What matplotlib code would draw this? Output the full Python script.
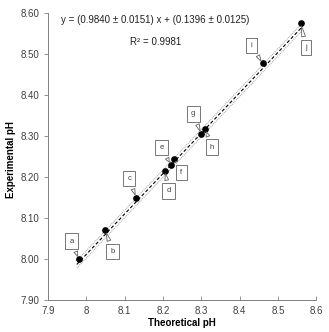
import numpy as np
import matplotlib
matplotlib.use("Agg")
import matplotlib.pyplot as plt

plt.rcParams['font.family'] = ['Liberation Sans', 'DejaVu Sans']

# data
theo_ph = [7.98, 8.05, 8.13, 8.205, 8.22, 8.23, 8.30, 8.31, 8.46, 8.56]
exp_ph = [8.00, 8.07, 8.15, 8.215, 8.23, 8.243, 8.305, 8.317, 8.477, 8.575]
point_tags = ['a', 'b', 'c', 'd', 'e', 'f', 'g', 'h', 'i', 'j']
# callout offsets (pixels) from each point
tag_dx = [-7, 7, -7, 4, -9, 7, -8, 7, -11, 5]
tag_dy = [18, -21, 19, -20, 17, -13, 20, -18, 18, -24]

slope, intercept = 0.9840, 0.1396
band = 0.009
x_ticks = [7.9, 8.0, 8.1, 8.2, 8.3, 8.4, 8.5, 8.6]
x_tick_labels = ['7.9', '8', '8.1', '8.2', '8.3', '8.4', '8.5', '8.6']
y_ticks = [7.9, 8.0, 8.1, 8.2, 8.3, 8.4, 8.5, 8.6]

fig = plt.figure(figsize=(3.29, 3.32), dpi=100)
ax = fig.add_axes([0.146, 0.096, 0.815, 0.865])

# fitted line with band
xf = np.array([7.975, 8.565])
yf = slope * xf + intercept
ax.plot(xf, yf + band, color='#a0a0a0', lw=0.7, ls=(0, (1, 1)))
ax.plot(xf, yf - band, color='#a0a0a0', lw=0.7, ls=(0, (1, 1)))
ax.plot(xf, yf, color='black', lw=0.8, ls=(0, (3, 2)))

ax.plot(theo_ph, exp_ph, 'o', color='black', markersize=3.8, zorder=5)

for x, y, t, dx, dy in zip(theo_ph, exp_ph, point_tags, tag_dx, tag_dy):
    ax.annotate(t, xy=(x, y), xytext=(dx, dy), textcoords='offset pixels',
                fontsize=5.5, color='#404040', ha='center', va='center',
                bbox=dict(boxstyle='square,pad=0.55', fc='white', ec='#606060', lw=0.6),
                arrowprops=dict(arrowstyle='wedge,tail_width=0.5,shrink_factor=0.5',
                                fc='white', ec='#606060', lw=0.6, shrinkA=-2, shrinkB=2),
                zorder=6)

ax.text(0.40, 0.976, 'y = (0.9840 ± 0.0151) x + (0.1396 ± 0.0125)',
        transform=ax.transAxes, ha='center', va='center', fontsize=7, color='#202020')
ax.text(0.306, 0.899, 'R² = 0.9981', transform=ax.transAxes,
        ha='left', va='center', fontsize=7, color='#202020')

ax.set_xlim(7.9, 8.6)
ax.set_ylim(7.9, 8.6)
ax.set_xticks(x_ticks)
ax.set_xticklabels(x_tick_labels)
ax.set_yticks(y_ticks)
ax.set_yticklabels(['%.2f' % v for v in y_ticks])
ax.tick_params(axis='x', direction='in', length=3, width=0.6, color='#808080',
               labelsize=7, labelcolor='#404040', pad=4)
ax.tick_params(axis='y', direction='out', length=3, width=0.6, color='#808080',
               labelsize=7, labelcolor='#404040')
for side in ['top', 'right']:
    ax.spines[side].set_visible(False)
for side in ['left', 'bottom']:
    ax.spines[side].set_color('#808080')
    ax.spines[side].set_linewidth(0.7)

ax.set_xlabel('Theoretical pH', fontsize=7, fontweight='bold', labelpad=2)
ax.set_ylabel('Experimental pH', fontsize=7, fontweight='bold')
ax.yaxis.set_label_coords(-0.118, 0.49)

fig.savefig('out.png', dpi=100)
